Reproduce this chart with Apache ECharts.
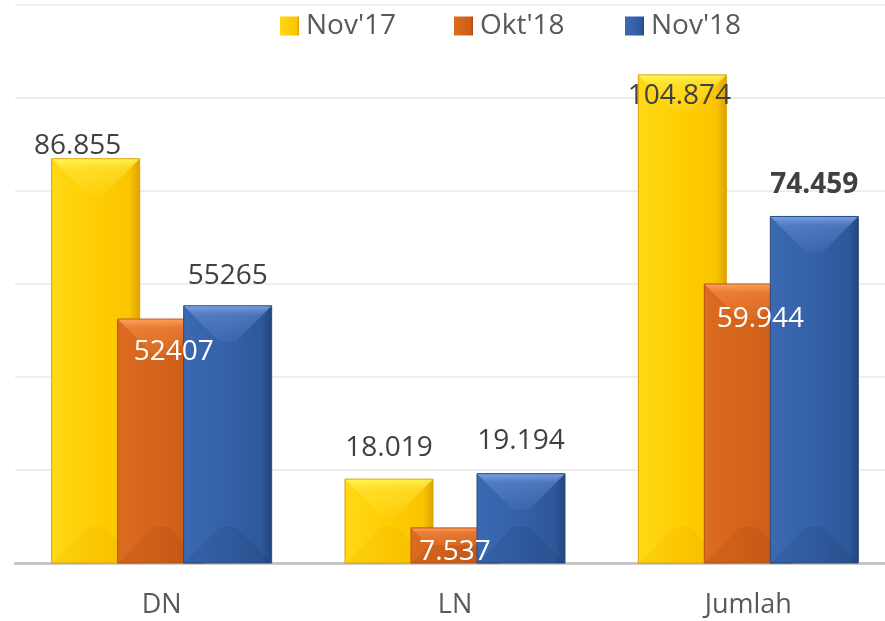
<!DOCTYPE html>
<html>
<head>
<meta charset="utf-8">
<script src="https://cdn.jsdelivr.net/npm/echarts@6/dist/echarts.min.js"></script>
<style>html,body{margin:0;padding:0;background:#fff;overflow:hidden}#c{width:895px;height:621px}</style>
</head>
<body>
<div id="c"></div>
<script>
// ---- data ----
const categories = ['DN', 'LN', 'Jumlah'];
const seriesNames = ["Nov'17", "Okt'18", "Nov'18"];
const nov17 = [86855, 18019, 104874];
const okt18 = [52407, 7537, 59944];
const nov18 = [55265, 19194, 74459];
const nov17Labels = ['86.855', '18.019', '104.874'];
const okt18Labels = ['52407', '7.537', '59.944'];
const nov18Labels = ['55265', '19.194', '74.459'];

// ---- styling ----
const BAR_W = 88, BAR_STEP = 66, BEVEL = 36;
const seriesValues = [nov17, okt18, nov18];
const seriesLabels = [nov17Labels, okt18Labels, nov18Labels];
const labelAdjust = [
  [[-18, -13], [0, -31], [-3, 21]],
  [[12, 33], [0, 24], [12, 35]],
  [[0, -30], [0, -33], [0, -31]]
];
const legendLeft = [280, 454, 625];
const labelColor = ['#404040', '#ffffff', '#404040'];
const labelBold = [[false, false, false], [false, false, false], [false, false, true]];
function hgrad(stops) {
  return new echarts.graphic.LinearGradient(0, 0, 1, 0, stops.map(c => ({offset: c[0], color: c[1]})));
}
function vgrad(stops) {
  return new echarts.graphic.LinearGradient(0, 0, 0, 1, stops.map(c => ({offset: c[0], color: c[1]})));
}
const fills = [
  hgrad([[0, '#FFD916'], [0.5, '#FFCD02'], [0.88, '#FAC500'], [1, '#DDA200']]),
  hgrad([[0, '#DC6C20'], [0.5, '#D4631B'], [0.88, '#CB5B16'], [1, '#AE4C14']]),
  hgrad([[0, '#3B69B2'], [0.5, '#3461A7'], [0.88, '#2F5799'], [1, '#23447F']])
];
const borders = ['#D6A200', '#B5501A', '#2A4A80'];
const topFacet = [
  vgrad([[0, 'rgba(255,250,90,0.85)'], [0.25, 'rgba(255,240,80,0.45)'], [1, 'rgba(255,235,80,0.12)']]),
  vgrad([[0, 'rgba(255,170,100,0.85)'], [0.25, 'rgba(255,150,80,0.45)'], [1, 'rgba(255,150,80,0.12)']]),
  vgrad([[0, 'rgba(130,170,235,0.85)'], [0.25, 'rgba(110,150,220,0.45)'], [1, 'rgba(110,150,220,0.12)']])
];
const botFacet = ['rgba(200,110,0,0.07)', 'rgba(90,30,0,0.08)', 'rgba(0,10,40,0.08)'];

function makeRender(si) {
  return function (params, api) {
    const cat = api.value(0), v = api.value(1);
    const pTop = api.coord([cat, v]), pBase = api.coord([cat, 0]);
    const cx = pTop[0] + (si - 1) * BAR_STEP;
    const x0 = cx - BAR_W / 2, x1 = cx + BAR_W / 2, y0 = pTop[1], y1 = pBase[1];
    const h = y1 - y0, d = Math.min(BEVEL, h / 2, BAR_W / 2);
    const adj = labelAdjust[si][params.dataIndex];
    return {
      type: 'group',
      children: [
        {type: 'rect', shape: {x: x0, y: y0, width: BAR_W, height: h},
         style: {fill: fills[si], stroke: borders[si], lineWidth: 1}},
        {type: 'polygon', shape: {points: [[x0 + 0.5, y0 + 0.5], [x1 - 0.5, y0 + 0.5], [x1 - d, y0 + d], [x0 + d, y0 + d]]},
         style: {fill: topFacet[si]}},
        {type: 'polygon', shape: {points: [[x0 + 0.5, y1], [x1 - 0.5, y1], [x1 - d, y1 - d], [x0 + d, y1 - d]]},
         style: {fill: botFacet[si]}},
        {type: 'text', z2: 100, x: cx + adj[0], y: y0 + adj[1],
         style: {text: seriesLabels[si][params.dataIndex], fill: labelColor[si],
                 fontFamily: 'Open Sans', fontSize: 28,
                 fontWeight: labelBold[si][params.dataIndex] ? 'bold' : 'normal',
                 align: 'center', verticalAlign: 'middle'}}
      ]
    };
  };
}

const chart = echarts.init(document.getElementById('c'), null, {renderer: 'canvas'});
chart.setOption({
  animation: false,
  backgroundColor: '#ffffff',
  legend: seriesNames.map((name, si) => ({
    data: [name],
    top: 12, left: legendLeft[si], padding: 0,
    icon: 'rect', itemWidth: 19, itemHeight: 19,
    textStyle: {fontFamily: 'Open Sans', fontSize: 28, color: '#595959', padding: [0, 0, 0, 2]}
  })),
  grid: {left: 15, top: 4.5, right: 0, height: 558.5, containLabel: false},
  xAxis: {
    type: 'category', data: categories, boundaryGap: true,
    axisTick: {show: false},
    axisLine: {lineStyle: {color: '#BFBFBF', width: 2.5}},
    axisLabel: {fontFamily: 'Open Sans', fontSize: 27, color: '#595959', margin: 29}
  },
  yAxis: {
    type: 'value', min: 0, max: 120000, interval: 20000,
    axisLabel: {show: false}, axisLine: {show: false}, axisTick: {show: false},
    splitLine: {lineStyle: {color: '#E8E8E8', width: 1.5}}
  },
  series: seriesNames.map((name, si) => ({
    type: 'custom', name: name,
    coordinateSystem: 'cartesian2d',
    itemStyle: {color: fills[si]},
    encode: {x: 0, y: 1},
    data: seriesValues[si].map((v, i) => [i, v]),
    renderItem: makeRender(si)
  }))
});
</script>
</body>
</html>
